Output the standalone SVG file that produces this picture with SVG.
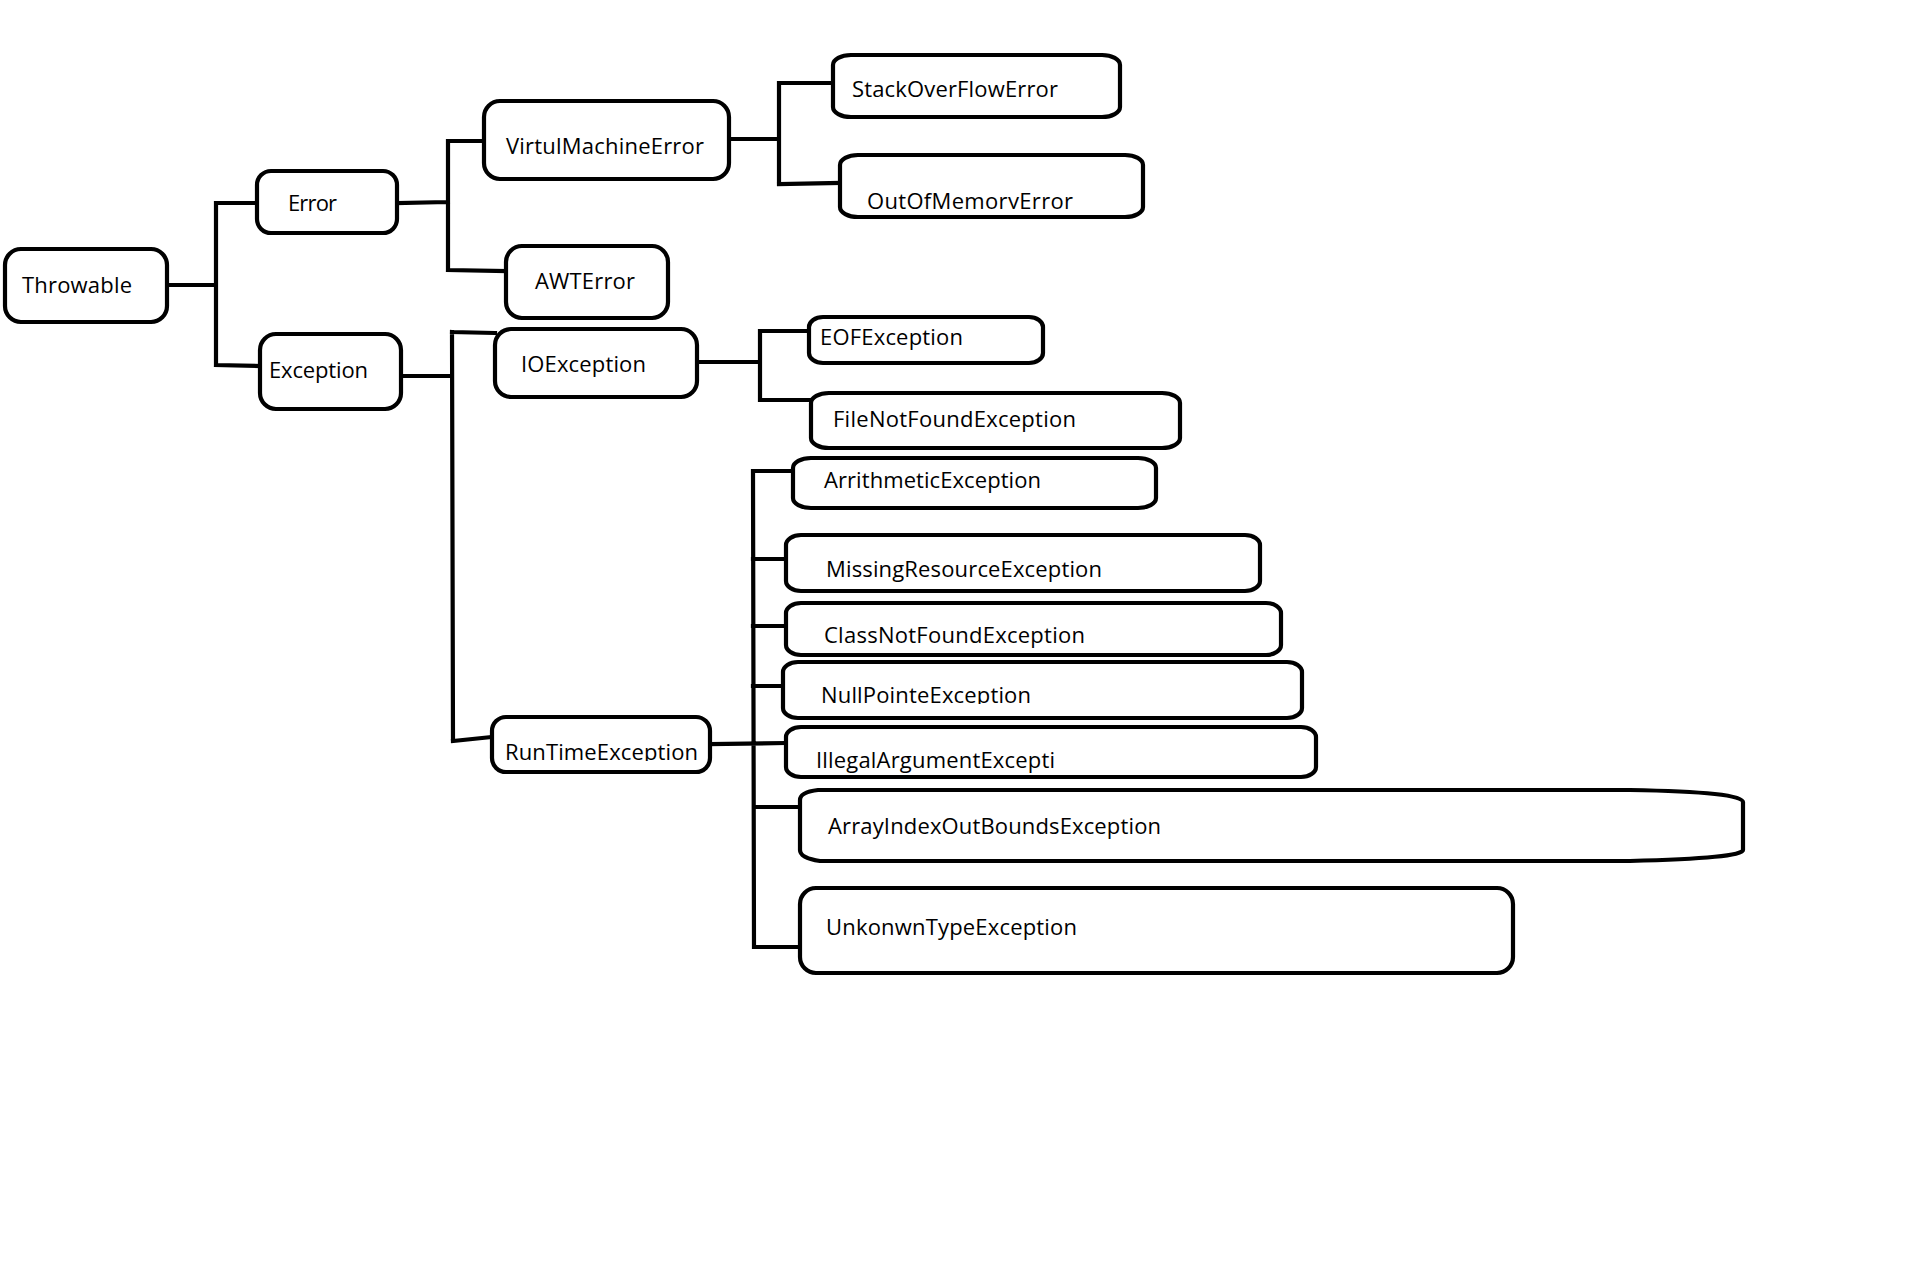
<svg xmlns="http://www.w3.org/2000/svg" width="1914" height="1278" viewBox="0 0 1914 1278">
<style>
.box{fill:#fff;stroke:#000;stroke-width:4.2}
.lbl{font-family:"Open Sans","Noto Sans","Liberation Sans",sans-serif;font-size:22px;fill:#000}
.conn{fill:none;stroke:#000;stroke-width:4.2;stroke-linecap:square;stroke-linejoin:miter}
</style>
<defs>
<clipPath id="cOOM"><rect x="840" y="150" width="310" height="59"/></clipPath>
<clipPath id="cNPE"><rect x="780" y="660" width="530" height="44"/></clipPath>
<clipPath id="cRTE"><rect x="490" y="715" width="225" height="46"/></clipPath>
</defs>
<rect x="0" y="0" width="1914" height="1278" fill="#fff"/>
<g id="connectors">
<path class="conn" d="M167,285 H216 M216,203 V365 M216,203 H257 M216,365 L260,366"/>
<path class="conn" d="M397,203 L448,202 M448,141 V270 M448,141 H484 M448,270 L506,271"/>
<path class="conn" d="M729,139 H779 M779,83 V184 M779,83 H833 M779,184 L840,183"/>
<path class="conn" d="M401,376 H452 M452,332 L453,741 M452,332 L495,333 M453,741 L492,737"/>
<path class="conn" d="M697,362 H760 M760,331 V400 M760,331 H809 M760,400 L811,400"/>
<path class="conn" d="M753,471 L754,947 M753,471 H793 M753,559 H786 M753,626 H786 M753,686 H783 M710,744 L786,743 M754,807 H800 M754,947 H800"/>
</g>
<g id="n-throwable"><rect class="box" x="5" y="249" width="162" height="73" rx="16"/><text class="lbl" x="22" y="293" textLength="110">Throwable</text></g>
<g id="n-error"><rect class="box" x="257" y="171" width="140" height="62" rx="14"/><text class="lbl" x="288" y="211" textLength="49">Error</text></g>
<g id="n-exception"><rect class="box" x="260" y="334" width="141" height="75" rx="16"/><text class="lbl" x="269" y="378" textLength="99">Exception</text></g>
<g id="n-vme"><rect class="box" x="484" y="101" width="245" height="78" rx="16"/><text class="lbl" x="506" y="154" textLength="198">VirtulMachineError</text></g>
<g id="n-sof"><rect class="box" x="833" y="55" width="287" height="62" rx="18" ry="10"/><text class="lbl" x="852" y="97" textLength="206">StackOverFlowError</text></g>
<g id="n-oom"><rect class="box" x="840" y="155" width="303" height="62" rx="18" ry="10"/><text class="lbl" x="867" y="209" textLength="206" clip-path="url(#cOOM)">OutOfMemoryError</text></g>
<g id="n-awt"><rect class="box" x="506" y="246" width="162" height="72" rx="16"/><text class="lbl" x="535" y="289" textLength="100">AWTError</text></g>
<g id="n-io"><rect class="box" x="495" y="329" width="202" height="68" rx="16"/><text class="lbl" x="521" y="372" textLength="125">IOException</text></g>
<g id="n-eof"><rect class="box" x="809" y="317" width="234" height="46" rx="14" ry="10"/><text class="lbl" x="820" y="345" textLength="143">EOFException</text></g>
<g id="n-fnf"><rect class="box" x="811" y="393" width="369" height="55" rx="18" ry="10"/><text class="lbl" x="833" y="427" textLength="243">FileNotFoundException</text></g>
<g id="n-arith"><rect class="box" x="793" y="458" width="363" height="50" rx="18" ry="10"/><text class="lbl" x="824" y="488" textLength="217">ArrithmeticException</text></g>
<g id="n-mre"><rect class="box" x="786" y="535" width="474" height="56" rx="15" ry="10"/><text class="lbl" x="826" y="577" textLength="276">MissingResourceException</text></g>
<g id="n-cnf"><rect class="box" x="786" y="603" width="495" height="52" rx="15" ry="10"/><text class="lbl" x="824" y="643" textLength="261">ClassNotFoundException</text></g>
<g id="n-npe"><rect class="box" x="783" y="662" width="519" height="56" rx="15" ry="10"/><text class="lbl" x="821" y="703" textLength="210" clip-path="url(#cNPE)">NullPointeException</text></g>
<g id="n-iae"><rect class="box" x="786" y="727" width="530" height="50" rx="15" ry="10"/><text class="lbl" x="816" y="768" textLength="239">IllegalArgumentExcepti</text></g>
<g id="n-rte"><rect class="box" x="492" y="717" width="218" height="55" rx="14"/><text class="lbl" x="505" y="760" textLength="193" clip-path="url(#cRTE)">RunTimeException</text></g>
<g id="n-aiobe"><path class="box" d="M818,790 L1630,790 Q1743,792 1743,802 L1743,850 Q1743,858 1630,861 L820,861 Q800,858 800,850 L800,800 Q800,792 818,790 Z"/><text class="lbl" x="828" y="834" textLength="333">ArrayIndexOutBoundsException</text></g>
<g id="n-ute"><rect class="box" x="800" y="888" width="713" height="85" rx="16"/><text class="lbl" x="826" y="935" textLength="251">UnkonwnTypeException</text></g>
</svg>
